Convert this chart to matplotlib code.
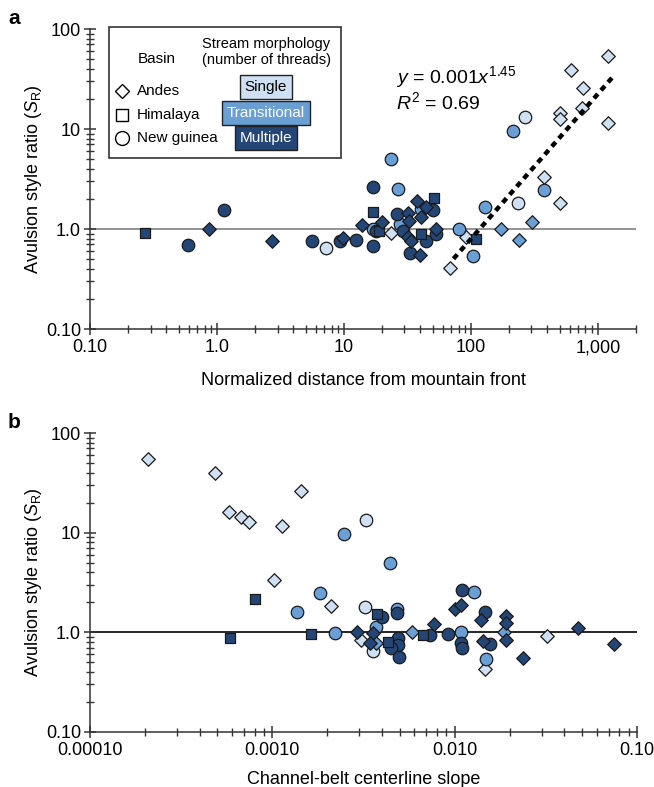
import matplotlib
matplotlib.use("Agg")
import matplotlib.pyplot as plt
import numpy as np
from matplotlib.patches import Rectangle
from matplotlib.lines import Line2D
from matplotlib.ticker import FixedLocator, LogLocator, NullFormatter

plt.rcParams['font.family'] = ['Liberation Sans', 'DejaVu Sans']
plt.rcParams['mathtext.fontset'] = 'custom'
plt.rcParams['mathtext.rm'] = 'Liberation Sans'
plt.rcParams['mathtext.it'] = 'Liberation Sans:italic'

# colours for stream morphology
colors = {'S': '#cfe0f3', 'T': '#6a9fd6', 'M': '#244676'}
markers = {'Andes': 'D', 'Himalaya': 's', 'New guinea': 'o'}
sizes = {'Andes': 6.9, 'Himalaya': 7.9, 'New guinea': 9.0}

# ---- panel a: normalized distance from mountain front vs S_R ----
a_andes_M_x = [0.87, 2.7, 9.9, 13.8, 19.8, 32, 37.8, 44.3, 40.2, 32.5, 32.2, 34, 53.6, 39.6]
a_andes_M_y = [1.0, 0.76, 0.82, 1.09, 1.18, 1.46, 1.9, 1.67, 1.33, 1.21, 0.83, 0.76, 1.0, 0.55]
a_andes_S_x = [23.4, 68, 91, 380, 500, 500, 500, 617, 766, 748, 1213, 1213]
a_andes_S_y = [0.92, 0.41, 0.84, 3.34, 1.8, 14.4, 12.5, 39, 25.5, 16.1, 54, 11.4]
a_andes_T_x = [173, 241, 304]
a_andes_T_y = [1.0, 0.78, 1.17]
a_him_M_x = [0.27, 17, 19, 40.4, 51.4, 110]
a_him_M_y = [0.92, 1.48, 0.95, 0.89, 2.06, 0.8]
a_ng_M_x = [0.59, 1.13, 5.6, 9.3, 12.4, 17, 17, 18, 26.3, 29.3, 44, 50.5, 53, 33]
a_ng_M_y = [0.69, 1.56, 0.76, 0.76, 0.77, 2.65, 0.68, 0.95, 1.41, 0.96, 0.76, 1.55, 0.89, 0.57]
a_ng_S_x = [7.2, 267, 234]
a_ng_S_y = [0.65, 13.1, 1.8]
a_ng_T_x = [17, 23.6, 26.5, 40.4, 27.6, 80.5, 104, 129, 213, 380]
a_ng_T_y = [1.0, 4.97, 2.5, 1.6, 1.12, 1.0, 0.54, 1.67, 9.6, 2.45]

fit_coef = 0.001
fit_exp = 1.45
fit_xrange = [73, 1350]

# ---- panel b: channel-belt centerline slope vs S_R ----
b_andes_S_x = [2.07e-4, 4.83e-4, 1.44e-3, 5.75e-4, 6.76e-4, 7.47e-4, 1.13e-3, 1.02e-3, 2.09e-3, 3.05e-3, 0.0147, 0.0319]
b_andes_S_y = [54.5, 39.5, 25.9, 16.3, 14.3, 12.7, 11.6, 3.34, 1.83, 0.84, 0.43, 0.92]
b_andes_M_x = [2.9e-3, 3.57e-3, 3.45e-3, 7.66e-3, 0.01, 0.0109, 0.0139, 0.0143, 0.0191, 0.0191, 0.0191, 0.0236, 0.0476, 0.0748]
b_andes_M_y = [1.0, 0.98, 0.78, 1.2, 1.73, 1.89, 1.33, 0.82, 1.46, 1.23, 0.84, 0.55, 1.1, 0.76]
b_andes_T_x = [3.69e-3, 5.85e-3, 0.0187]
b_andes_T_y = [0.78, 1.0, 1.0]
b_him_M_x = [8.0e-4, 5.85e-4, 1.62e-3, 3.77e-3, 4.31e-3, 6.7e-3]
b_him_M_y = [2.14, 0.885, 0.955, 1.54, 0.8, 0.94]
b_ng_M_x = [4.0e-3, 4.85e-3, 4.9e-3, 4.87e-3, 4.5e-3, 4.94e-3, 7.3e-3, 9.2e-3, 0.0108, 0.011, 0.011, 0.0146, 0.0157]
b_ng_M_y = [1.42, 1.58, 0.885, 0.74, 0.70, 0.57, 0.94, 0.955, 0.79, 0.69, 2.65, 1.6, 0.77]
b_ng_S_x = [3.26e-3, 3.24e-3, 3.55e-3]
b_ng_S_y = [13.5, 1.79, 0.65]
b_ng_T_x = [2.48e-3, 1.82e-3, 1.36e-3, 2.21e-3, 3.68e-3, 4.82e-3, 4.4e-3, 0.0108, 0.0128, 0.0148]
b_ng_T_y = [9.77, 2.49, 1.61, 0.98, 1.13, 1.73, 4.97, 1.0, 2.53, 0.54]

y_ticks = [0.1, 1, 10, 100]
y_ticklabels = ['0.10', '1.0', '10', '100']
a_xticks = [0.1, 1, 10, 100, 1000]
a_xticklabels = ['0.10', '1.0', '10', '100', '1,000']
b_xticks = [1e-4, 1e-3, 1e-2, 1e-1]
b_xticklabels = ['0.00010', '0.0010', '0.010', '0.10']

W, H = 654, 787
fig = plt.figure(figsize=(W / 100, H / 100), dpi=100)


def fx(px):
    return px / W


def fy(py):
    return 1 - py / H


def style_axes(ax, xticks, xlabels, xlabel, hline_color, xpad):
    ax.set_xscale('log')
    ax.set_yscale('log')
    for s in ['top', 'right']:
        ax.spines[s].set_visible(False)
    for s in ['left', 'bottom']:
        ax.spines[s].set_color('#333333')
        ax.spines[s].set_linewidth(1.1)
    ax.xaxis.set_major_locator(FixedLocator(xticks))
    ax.set_xticklabels(xlabels)
    ax.xaxis.set_minor_locator(LogLocator(base=10, subs=np.arange(2, 10), numticks=20))
    ax.xaxis.set_minor_formatter(NullFormatter())
    ax.yaxis.set_major_locator(FixedLocator(y_ticks))
    ax.set_yticklabels(y_ticklabels)
    ax.yaxis.set_minor_locator(LogLocator(base=10, subs=np.arange(2, 10), numticks=20))
    ax.yaxis.set_minor_formatter(NullFormatter())
    ax.set_ylim(0.1, 100)
    ax.tick_params(which='major', direction='inout', length=9, width=1.1, labelsize=13, color='#333333', pad=2)
    ax.tick_params(axis='x', which='major', pad=3)
    ax.tick_params(which='minor', direction='inout', length=6, width=1.0, color='#333333')
    ax.axhline(1.0, color=hline_color, lw=1.2, zorder=1)
    ax.set_xlabel(xlabel, fontsize=13, labelpad=xpad)
    ax.set_ylabel(r'Avulsion style ratio ($\mathit{S}_{\mathrm{R}}$)', fontsize=13, labelpad=1)


def scatter(ax, x, y, basin, morph):
    ax.scatter(x, y, marker=markers[basin], s=sizes[basin] ** 2, c=colors[morph],
               edgecolors='#1a1a1a', linewidths=0.9, zorder=3, clip_on=False)


# panel a
ax1 = fig.add_axes([fx(90), fy(329), fx(636) - fx(90), (329 - 29) / H])
ax1.set_xlim(0.1, 2000)
style_axes(ax1, a_xticks, a_xticklabels, 'Normalized distance from mountain front', '#808080', 11)
scatter(ax1, a_andes_S_x, a_andes_S_y, 'Andes', 'S')
scatter(ax1, a_ng_S_x, a_ng_S_y, 'New guinea', 'S')
scatter(ax1, a_ng_T_x, a_ng_T_y, 'New guinea', 'T')
scatter(ax1, a_andes_T_x, a_andes_T_y, 'Andes', 'T')
scatter(ax1, a_ng_M_x, a_ng_M_y, 'New guinea', 'M')
scatter(ax1, a_him_M_x, a_him_M_y, 'Himalaya', 'M')
scatter(ax1, a_andes_M_x, a_andes_M_y, 'Andes', 'M')
fx_line = np.logspace(np.log10(fit_xrange[0]), np.log10(fit_xrange[1]), 50)
ax1.plot(fx_line, fit_coef * fx_line ** fit_exp, color='black', lw=3.2,
         linestyle=(0, (1.3, 1.1)), zorder=4)
ax1.text(0.56, 0.84, r'$\mathit{y}$ = 0.001$\mathit{x}^{1.45}$', transform=ax1.transAxes,
         fontsize=14, va='center')
ax1.text(0.56, 0.755, r'$\mathit{R}^{2}$ = 0.69', transform=ax1.transAxes,
         fontsize=14, va='center')

# panel b
ax2 = fig.add_axes([fx(90), fy(732), fx(637) - fx(90), (732 - 433) / H])
ax2.set_xlim(1e-4, 0.1)
style_axes(ax2, b_xticks, b_xticklabels, 'Channel-belt centerline slope', 'black', 8)
scatter(ax2, b_andes_S_x, b_andes_S_y, 'Andes', 'S')
scatter(ax2, b_ng_S_x, b_ng_S_y, 'New guinea', 'S')
scatter(ax2, b_ng_T_x, b_ng_T_y, 'New guinea', 'T')
scatter(ax2, b_andes_T_x, b_andes_T_y, 'Andes', 'T')
scatter(ax2, b_ng_M_x, b_ng_M_y, 'New guinea', 'M')
scatter(ax2, b_him_M_x, b_him_M_y, 'Himalaya', 'M')
scatter(ax2, b_andes_M_x, b_andes_M_y, 'Andes', 'M')

# panel letters
fig.text(fx(8), fy(18), 'a', fontsize=15, fontweight='bold', va='center')
fig.text(fx(8), fy(423), 'b', fontsize=15, fontweight='bold', va='center')

# legend box (drawn in figure pixels)
fig.add_artist(Rectangle((fx(109), fy(158)), fx(341) - fx(109), (158 - 27) / H,
                         transform=fig.transFigure, fc='white', ec='#333333', lw=1.2, zorder=5))
fig.text(fx(157), fy(59), 'Basin', fontsize=11, ha='center', va='center', zorder=6)
fig.text(fx(266), fy(52), 'Stream morphology\n(number of threads)', fontsize=10.5,
         ha='center', va='center', linespacing=1.15, zorder=6)
for basin, py in [('Andes', 91), ('Himalaya', 115), ('New guinea', 138)]:
    ms = {'Andes': 7.5, 'Himalaya': 9, 'New guinea': 10}[basin]
    fig.add_artist(Line2D([fx(122)], [fy(py)], marker=markers[basin], markersize=ms,
                          mfc='white', mec='black', mew=1.0, transform=fig.transFigure, zorder=6))
    fig.text(fx(137), fy(py), basin, fontsize=11, va='center', zorder=6)
for label, morph, py, tc in [('Single', 'S', 87, 'black'), ('Transitional', 'T', 113, 'white'),
                             ('Multiple', 'M', 138, 'white')]:
    fig.text(fx(266), fy(py), label, fontsize=11, ha='center', va='center', color=tc, zorder=7,
             bbox=dict(boxstyle='square,pad=0.3', fc=colors[morph], ec='#222222', lw=1.0))

fig.savefig('out.png', dpi=100)
